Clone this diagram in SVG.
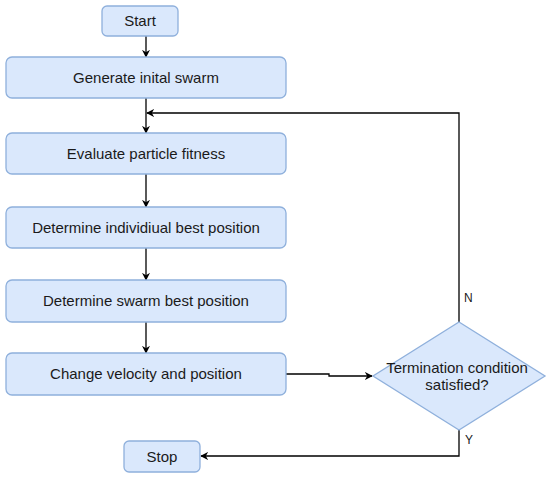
<svg xmlns="http://www.w3.org/2000/svg" width="550" height="478" viewBox="0 0 550 478">
<style>
.box{fill:#dae8fc;stroke:#8fb0dc;stroke-width:1.3}
.t{font-family:"Liberation Sans",Arial,sans-serif;font-size:15px;fill:#1a1a1a;text-anchor:middle}
.l{font-family:"Liberation Sans",Arial,sans-serif;font-size:12px;fill:#1a1a1a}
.c{fill:none;stroke:#000;stroke-width:1.3}
</style>
<defs>
<marker id="a" viewBox="0 0 10 10" refX="9" refY="5" markerWidth="8" markerHeight="8" markerUnits="userSpaceOnUse" orient="auto">
<path d="M0,0 L10,5 L0,10 L3,5 Z" fill="#000"/>
</marker>
</defs>
<rect width="550" height="478" fill="#fff"/>
<g id="connectors">
<path class="c" d="M146,36 V57" marker-end="url(#a)"/>
<path class="c" d="M146,98 V133" marker-end="url(#a)"/>
<path class="c" d="M146,174 V207" marker-end="url(#a)"/>
<path class="c" d="M146,248 V280" marker-end="url(#a)"/>
<path class="c" d="M146,322 V353" marker-end="url(#a)"/>
<path class="c" d="M286,374 H329 V376 H372" marker-end="url(#a)"/>
<path class="c" d="M459,322 V113 H147" marker-end="url(#a)"/>
<path class="c" d="M459,430 V456 H201" marker-end="url(#a)"/>
<text class="l" x="464" y="302">N</text>
<text class="l" x="465" y="444">Y</text>
</g>
<g id="start"><rect class="box" x="102" y="6" width="76" height="30" rx="5"/><text class="t" x="140" y="26">Start</text></g>
<g id="generate"><rect class="box" x="6" y="57" width="280" height="41" rx="6"/><text class="t" x="146" y="83">Generate inital swarm</text></g>
<g id="evaluate"><rect class="box" x="6" y="133" width="280" height="41" rx="6"/><text class="t" x="146" y="159">Evaluate particle fitness</text></g>
<g id="individual"><rect class="box" x="6" y="207" width="280" height="41" rx="6"/><text class="t" x="146" y="233">Determine individiual best position</text></g>
<g id="swarm"><rect class="box" x="6" y="280" width="280" height="42" rx="6"/><text class="t" x="146" y="306">Determine swarm best position</text></g>
<g id="change"><rect class="box" x="6" y="353" width="280" height="42" rx="6"/><text class="t" x="146" y="379">Change velocity and position</text></g>
<g id="stop"><rect class="box" x="124" y="441" width="76" height="31" rx="5"/><text class="t" x="162" y="462">Stop</text></g>
<g id="decision"><path class="box" d="M459,322 L545,376 L459,430 L373,376 Z"/><text class="t" x="457" y="373">Termination condition</text><text class="t" x="457" y="390">satisfied?</text></g>
</svg>
